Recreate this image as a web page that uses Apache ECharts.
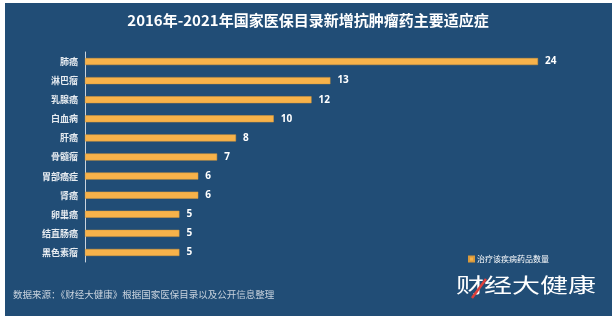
<!DOCTYPE html>
<html><head><meta charset="utf-8">
<script src="https://cdn.jsdelivr.net/npm/echarts@6/dist/echarts.min.js"></script>
<style>html,body{margin:0;padding:0;background:#fff}#c{width:616px;height:321px}</style>
</head><body><div id="c"></div>
<script>
var categories = ['肺癌','淋巴瘤','乳腺癌','白血病','肝癌','骨髓瘤','胃部癌症','肾癌','卵巢癌','结直肠癌','黑色素瘤'];
var values = [24,13,12,10,8,7,6,6,5,5,5];
var titleText = '2016年-2021年国家医保目录新增抗肿瘤药主要适应症';
var legendName = '治疗该疾病药品数量';
var sourceText = '数据来源：《财经大健康》根据国家医保目录以及公开信息整理';
var brandText = '财经大健康';

var chart = echarts.init(document.getElementById('c'));
var font = '"Noto Sans CJK SC", sans-serif';
chart.setOption({
  animation: false,
  backgroundColor: '#ffffff',
  graphic: [
    {type:'rect', z:-10, shape:{x:5,y:3,width:607,height:313}, style:{fill:'#214d76'}},
    {type:'text', left:13, top:290, style:{text:sourceText, fill:'#c9d3de', font:'9.5px '+font}},
    {type:'text', x:456, y:275, scaleX:1.4, style:{text:brandText, fill:'#ffffff', font:'20px '+font, letterSpacing:2}},
    {type:'line', shape:{x1:472,y1:298,x2:486,y2:279}, style:{stroke:'#e0403a', lineWidth:2.5}}
  ],
  title: {
    text: titleText, left: 'center', top: 8,
    textStyle: {color:'#ffffff', fontSize:15, fontWeight:'bold', fontFamily:font}
  },
  legend: {
    data:[legendName], left: 463, top: 250, itemWidth:5, itemHeight:5, icon:'rect', itemGap:4,
    textStyle:{color:'#ffffff', fontSize:8, fontFamily:font, padding:[0,0,0,-2]}
  },
  grid: {left:85, right:78, top:52, height:210, containLabel:false},
  xAxis: {type:'value', min:0, max:24, show:false},
  yAxis: {
    type:'category', data:categories, inverse:true,
    axisLine:{show:true, lineStyle:{color:'#c9d3de', width:1}},
    axisTick:{show:false},
    axisLabel:{color:'#e6ebf0', fontSize:9, fontWeight:'bold', fontFamily:font, margin:7}
  },
  series: [{
    name: legendName, type:'bar', data: values, barWidth:7,
    itemStyle:{color:'#f7b24a', borderColor:'#d99a3c', borderWidth:0.5},
    label:{show:true, position:'right', distance:7, color:'#ffffff', fontSize:10, fontWeight:'bold', fontFamily:'"Open Sans", sans-serif'}
  }]
});
</script></body></html>
